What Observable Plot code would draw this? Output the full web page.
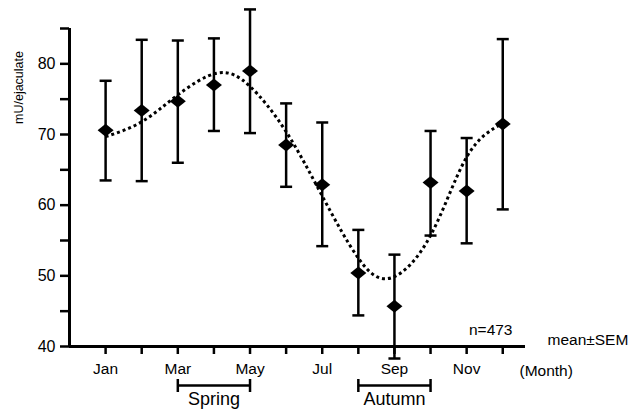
<!DOCTYPE html>
<html><head><meta charset="utf-8">
<script src="https://cdn.jsdelivr.net/npm/d3@7"></script>
<script src="https://cdn.jsdelivr.net/npm/@observablehq/plot@0.6"></script>
<style>body{margin:0;background:#fff}</style>
</head><body><div id="chart"></div>
<script>
const months = [1,2,3,4,5,6,7,8,9,10,11,12];
const monthLabels = ["Jan","Feb","Mar","Apr","May","Jun","Jul","Aug","Sep","Oct","Nov","Dec"];
const means = [70.6,73.4,74.7,77.0,79.0,68.5,62.9,50.4,45.7,63.2,62.0,71.5];
const upper = [77.6,83.4,83.3,83.6,87.7,74.4,71.7,56.5,53.0,70.5,69.5,83.5];
const lower = [63.5,63.4,66.0,70.5,70.2,62.6,54.2,44.4,38.3,55.7,54.6,59.4];
const fitMonths = [1,2,3,4.1,5,6,7,8,8.9,10,11,12];
const fitValues = [69.7,71.8,75.6,78.7,76.8,70.4,61.3,52.5,49.7,55.7,66.8,71.6];
const seasonNames = ["Spring","Autumn"];
const seasonStart = [3,8];
const seasonEnd = [5,10];
const yTicks = [40,45,50,55,60,65,70,75,80,85];
const yLabel = "mU/ejaculate";
const nLabel = "n=473";
const statLabel = "mean±SEM";
const xLabel = "(Month)";

const data = months.map((m,i)=>({m, mean: means[i], hi: upper[i], lo: lower[i]}));
const fit = fitMonths.map((m,i)=>({m, v: fitValues[i]}));
const seasons = seasonNames.map((name,i)=>({name, start: seasonStart[i], end: seasonEnd[i]}));
const seasonEnds = seasons.flatMap(s=>[s.start, s.end]);

const diamond = {draw(c){ c.moveTo(0,-6.5); c.lineTo(8,0); c.lineTo(0,6.5); c.lineTo(-8,0); c.closePath(); }};
const hcap = {draw(c){ c.moveTo(-6,0); c.lineTo(6,0); }};
const vcap = {draw(c){ c.moveTo(0,-6.5); c.lineTo(0,6.5); }};

const chart = Plot.plot({
  width: 628, height: 411,
  marginLeft: 69, marginRight: 103, marginTop: 28, marginBottom: 65,
  style: {fontFamily: "Liberation Sans, Arial, sans-serif", color: "black", background: "white"},
  x: {domain: [0, 12.63]},
  y: {domain: [40, 85]},
  marks: [
    Plot.axisY({ticks: yTicks, tickFormat: d => d % 10 === 0 ? String(d) : "", tickSize: 9, tickPadding: 5, fontSize: 16, strokeWidth: 2.5, label: null}),
    Plot.axisX({ticks: months, tickFormat: d => d % 2 === 1 ? monthLabels[d-1] : "", tickSize: 8, tickPadding: 8, fontSize: 15.5, strokeWidth: 2.5, label: null}),
    Plot.ruleX([0], {strokeWidth: 3}),
    Plot.ruleY([40], {strokeWidth: 3}),
    Plot.line(fit, {x: "m", y: "v", curve: "natural", stroke: "black", strokeWidth: 3, strokeDasharray: "3,3", strokeLinecap: "butt"}),
    Plot.ruleX(data, {x: "m", y1: "lo", y2: "hi", strokeWidth: 2.5}),
    Plot.dot(data, {x: "m", y: "hi", symbol: hcap, stroke: "black", fill: "none", strokeWidth: 2.5}),
    Plot.dot(data, {x: "m", y: "lo", symbol: hcap, stroke: "black", fill: "none", strokeWidth: 2.5}),
    Plot.dot(data, {x: "m", y: "mean", symbol: diamond, fill: "black", stroke: "none"}),
    Plot.ruleY(seasons, {y: () => 40, x1: "start", x2: "end", dy: 39, strokeWidth: 2.5}),
    Plot.dot(seasonEnds, {x: d => d, y: () => 40, dy: 39, symbol: vcap, stroke: "black", fill: "none", strokeWidth: 2.5}),
    Plot.text(seasons, {x: d => (d.start + d.end) / 2, y: () => 40, dy: 53, text: "name", fontSize: 18, lineAnchor: "middle"}),
    Plot.text([yLabel], {frameAnchor: "top-left", dx: -51, dy: 59, rotate: -90, fontSize: 12.5, textAnchor: "middle", lineAnchor: "middle"}),
    Plot.text([nLabel], {frameAnchor: "bottom-right", dx: -13, dy: -16, textAnchor: "end", lineAnchor: "middle", fontSize: 15.5}),
    Plot.text([statLabel], {frameAnchor: "bottom-right", dx: 22, dy: -6, textAnchor: "start", lineAnchor: "middle", fontSize: 15.5}),
    Plot.text([xLabel], {frameAnchor: "bottom-right", dx: -6, dy: 25, textAnchor: "start", lineAnchor: "middle", fontSize: 15.5})
  ]
});
document.getElementById("chart").append(chart);
</script>
</body></html>
